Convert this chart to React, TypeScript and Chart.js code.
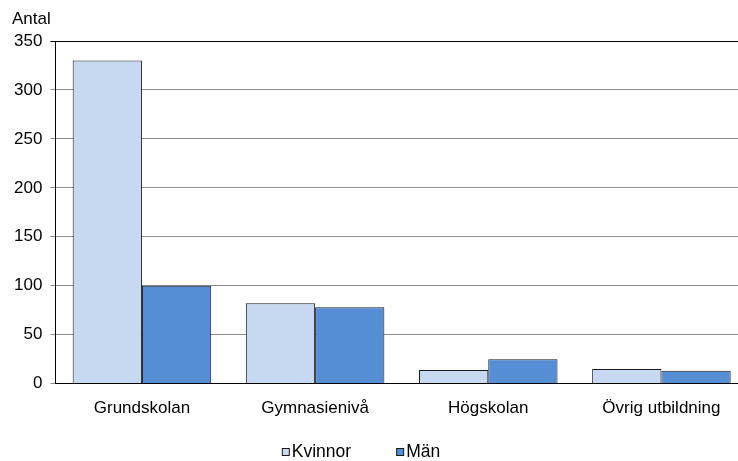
import React, { useEffect, useRef } from "react";
import { Chart, registerables } from "chart.js";

Chart.register(...registerables);

const categories = ["Grundskolan", "Gymnasienivå", "Högskolan", "Övrig utbildning"];
const kvinnor = [330, 82, 14, 15];
const man = [100, 78, 25, 13];
const yTicks = [0, 50, 100, 150, 200, 250, 300, 350];
const axisTitle = "Antal";

const FONT = "'Liberation Sans', Arial, sans-serif";
const W = 752;
const H = 461;

export default function App() {
  const ref = useRef<HTMLCanvasElement | null>(null);
  useEffect(() => {
    document.body.style.margin = "0";
    const extras = {
      id: "extras",
      afterDraw(chart: any) {
        const ctx = chart.ctx;
        ctx.save();
        // axis title
        ctx.font = `17px ${FONT}`;
        ctx.fillStyle = "#000";
        ctx.textAlign = "left";
        ctx.textBaseline = "middle";
        ctx.fillText(axisTitle, 12, chart.chartArea.top - 22);
        // legend
        ctx.font = `17.5px ${FONT}`;
        const ds = chart.data.datasets;
        const box = 8;
        const gap = 2;
        const spacing = 45;
        const widths = ds.map((d: any) => box + gap + ctx.measureText(d.label).width);
        const total = widths.reduce((a: number, b: number) => a + b, 0) + spacing * (ds.length - 1);
        let x = 361 - total / 2;
        const cy = chart.height - 9;
        ds.forEach((d: any, i: number) => {
          ctx.fillStyle = d.backgroundColor;
          ctx.fillRect(x + 0.5, cy - box / 2 + 0.5, box - 1, box - 1);
          ctx.strokeStyle = "#1a1a1a";
          ctx.lineWidth = 1;
          ctx.strokeRect(x + 0.5, cy - box / 2 + 0.5, box - 1, box - 1);
          ctx.fillStyle = "#000";
          ctx.fillText(d.label, x + box + gap, cy);
          x += widths[i] + spacing;
        });
        ctx.restore();
      },
    };
    const chart = new Chart(ref.current as HTMLCanvasElement, {
      type: "bar",
      data: {
        labels: categories,
        datasets: [
          {
            label: "Kvinnor",
            data: kvinnor,
            backgroundColor: "#c6d9f1",
            borderColor: "#1a1a1a",
            borderWidth: 1,
            categoryPercentage: 0.8,
            barPercentage: 1,
          },
          {
            label: "Män",
            data: man,
            backgroundColor: "#558ed5",
            borderColor: "#1a1a1a",
            borderWidth: 1,
            categoryPercentage: 0.8,
            barPercentage: 1,
          },
        ],
      },
      options: {
        animation: false,
        responsive: false,
        maintainAspectRatio: false,
        layout: { padding: { top: 41, right: 4, left: 6, bottom: 27 } },
        plugins: {
          tooltip: { enabled: false },
          legend: { display: false },
        },
        scales: {
          x: {
            grid: { display: false, drawTicks: false },
            border: { display: true, color: "#000", width: 1 },
            ticks: { font: { family: FONT, size: 17 }, color: "#000", padding: 15 },
          },
          y: {
            min: 0,
            max: 350,
            afterBuildTicks(axis: any) {
              axis.ticks = yTicks.map((v) => ({ value: v }));
            },
            grid: {
              color: (c: any) => (c.tick && c.tick.value === 350 ? "#000" : "#8c8c8c"),
              tickLength: 5,
              drawTicks: true,
            },
            border: { display: true, color: "#000", width: 1 },
            ticks: { font: { family: FONT, size: 17 }, color: "#000", padding: 8 },
          },
        },
      },
      plugins: [extras],
    });
    return () => chart.destroy();
  }, []);
  return (
    <div style={{ width: 738, height: H, overflow: "hidden" }}>
      <canvas ref={ref} width={W} height={H} style={{ display: "block" }} />
    </div>
  );
}
